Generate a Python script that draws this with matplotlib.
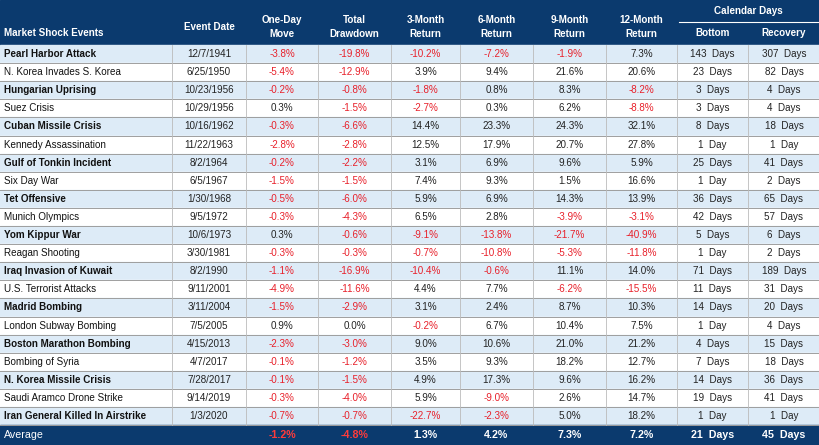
import matplotlib.pyplot as plt
from matplotlib.patches import Rectangle

events = ["Pearl Harbor Attack", "N. Korea Invades S. Korea", "Hungarian Uprising", "Suez Crisis",
          "Cuban Missile Crisis", "Kennedy Assassination", "Gulf of Tonkin Incident", "Six Day War",
          "Tet Offensive", "Munich Olympics", "Yom Kippur War", "Reagan Shooting",
          "Iraq Invasion of Kuwait", "U.S. Terrorist Attacks", "Madrid Bombing", "London Subway Bombing",
          "Boston Marathon Bombing", "Bombing of Syria", "N. Korea Missile Crisis",
          "Saudi Aramco Drone Strike", "Iran General Killed In Airstrike"]
dates = ["12/7/1941", "6/25/1950", "10/23/1956", "10/29/1956", "10/16/1962", "11/22/1963", "8/2/1964",
         "6/5/1967", "1/30/1968", "9/5/1972", "10/6/1973", "3/30/1981", "8/2/1990", "9/11/2001",
         "3/11/2004", "7/5/2005", "4/15/2013", "4/7/2017", "7/28/2017", "9/14/2019", "1/3/2020"]
one_day = [-3.8, -5.4, -0.2, 0.3, -0.3, -2.8, -0.2, -1.5, -0.5, -0.3, 0.3, -0.3, -1.1, -4.9, -1.5, 0.9, -2.3, -0.1, -0.1, -0.3, -0.7]
drawdown = [-19.8, -12.9, -0.8, -1.5, -6.6, -2.8, -2.2, -1.5, -6.0, -4.3, -0.6, -0.3, -16.9, -11.6, -2.9, 0.0, -3.0, -1.2, -1.5, -4.0, -0.7]
ret3 = [-10.2, 3.9, -1.8, -2.7, 14.4, 12.5, 3.1, 7.4, 5.9, 6.5, -9.1, -0.7, -10.4, 4.4, 3.1, -0.2, 9.0, 3.5, 4.9, 5.9, -22.7]
ret6 = [-7.2, 9.4, 0.8, 0.3, 23.3, 17.9, 6.9, 9.3, 6.9, 2.8, -13.8, -10.8, -0.6, 7.7, 2.4, 6.7, 10.6, 9.3, 17.3, -9.0, -2.3]
ret9 = [-1.9, 21.6, 8.3, 6.2, 24.3, 20.7, 9.6, 1.5, 14.3, -3.9, -21.7, -5.3, 11.1, -6.2, 8.7, 10.4, 21.0, 18.2, 9.6, 2.6, 5.0]
ret12 = [7.3, 20.6, -8.2, -8.8, 32.1, 27.8, 5.9, 16.6, 13.9, -3.1, -40.9, -11.8, 14.0, -15.5, 10.3, 7.5, 21.2, 12.7, 16.2, 14.7, 18.2]
bottom = [143, 23, 3, 3, 8, 1, 25, 1, 36, 42, 5, 1, 71, 11, 14, 1, 4, 7, 14, 19, 1]
recovery = [307, 82, 4, 4, 18, 1, 41, 2, 65, 57, 6, 2, 189, 31, 20, 4, 15, 18, 36, 41, 1]
avg_pct = [-1.2, -4.8, 1.3, 4.2, 7.3, 7.2]
avg_days = [21, 45]
headers = ["Market Shock Events", "Event Date", "One-Day\nMove", "Total\nDrawdown", "3-Month\nReturn",
           "6-Month\nReturn", "9-Month\nReturn", "12-Month\nReturn", "Bottom", "Recovery"]

NAVY = "#0B3A6E"
LIGHT = "#DDEBF7"
RED = "#E8202A"
plt.rcParams['font.family'] = ['Liberation Sans', 'DejaVu Sans']

W, H = 820, 445
fig = plt.figure(figsize=(W / 100, H / 100), dpi=100)
ax = fig.add_axes([0, 0, 1, 1])
ax.set_xlim(0, W)
ax.set_ylim(H, 0)
ax.axis('off')

edges = [0, 172, 246, 318, 391, 460, 533, 606, 677, 748, 820]
top, head_h, row_h = 0, 45, 18.1
fs = 7.1

ax.add_patch(Rectangle((0, top), W, head_h, color=NAVY))
ax.plot([edges[8] + 2, W - 2], [22, 22], color="white", lw=0.8)
ax.text((edges[8] + W) / 2, 11, "Calendar Days", color="white", fontsize=fs, fontweight='bold', ha='center', va='center')
for j, h in enumerate(headers):
    if j == 0:
        ax.text(4, 33, h, color="white", fontsize=fs, fontweight='bold', ha='left', va='center')
    elif j >= 8:
        ax.text((edges[j] + edges[j + 1]) / 2, 33, h, color="white", fontsize=fs, fontweight='bold', ha='center', va='center')
    else:
        ax.text((edges[j] + edges[j + 1]) / 2, 27, h, color="white", fontsize=fs, fontweight='bold', ha='center', va='center', linespacing=1.5)


def days(n):
    return f"{n}  Day" if n == 1 else f"{n}  Days"


cols = [one_day, drawdown, ret3, ret6, ret9, ret12]
for i in range(len(events)):
    y0 = head_h + i * row_h
    yc = y0 + row_h / 2
    ax.add_patch(Rectangle((0, y0), W, row_h, color=LIGHT if i % 2 == 0 else "white"))
    ax.plot([0, W], [y0 + row_h, y0 + row_h], color="#9E9E9E", lw=0.7)
    ax.text(4, yc, events[i], fontsize=fs, fontweight='bold' if i % 2 == 0 else 'normal', ha='left', va='center', color="#111111")
    ax.text((edges[1] + edges[2]) / 2, yc, dates[i], fontsize=fs, ha='center', va='center', color="#222222")
    for k, c in enumerate(cols):
        v = c[i]
        ax.text((edges[k + 2] + edges[k + 3]) / 2, yc, f"{v:.1f}%", fontsize=fs, ha='center', va='center',
                color=RED if v < 0 else "#222222")
    ax.text((edges[8] + edges[9]) / 2, yc, days(bottom[i]), fontsize=fs, ha='center', va='center', color="#222222")
    ax.text((edges[9] + edges[10]) / 2, yc, days(recovery[i]), fontsize=fs, ha='center', va='center', color="#222222")

body_bot = head_h + len(events) * row_h
for x in edges[1:-1]:
    ax.plot([x, x], [head_h, body_bot], color="#BBBBBB", lw=0.6)

ax.add_patch(Rectangle((0, body_bot), W, H - body_bot, color=NAVY))
yc = (body_bot + H) / 2
ax.text(4, yc, "Average", color="white", fontsize=fs + 0.6, ha='left', va='center')
for k, v in enumerate(avg_pct):
    ax.text((edges[k + 2] + edges[k + 3]) / 2, yc, f"{v:.1f}%", fontsize=fs + 0.6, fontweight='bold',
            ha='center', va='center', color="#FF3B3B" if v < 0 else "white")
for k, v in enumerate(avg_days):
    ax.text((edges[k + 8] + edges[k + 9]) / 2, yc, days(v), fontsize=fs + 0.6, fontweight='bold',
            ha='center', va='center', color="white")

fig.savefig("out.png", dpi=100)
